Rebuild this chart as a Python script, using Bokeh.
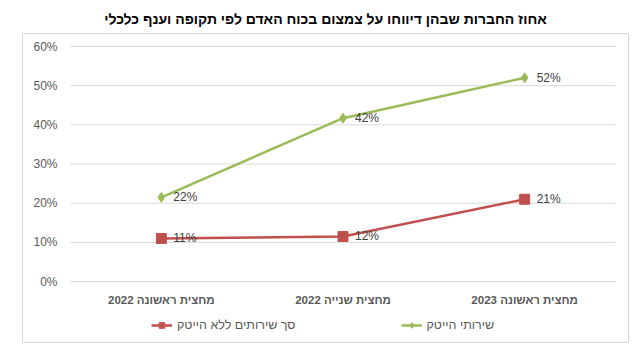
from bokeh.plotting import figure
from bokeh.models import Range1d, Legend, LegendItem
from bokeh.core.properties import value
from bokeh.embed import file_html
from bokeh.resources import INLINE

chart_title = "אחוז החברות שבהן דיווחו על צמצום בכוח האדם לפי תקופה וענף כלכלי"
periods = ["מחצית ראשונה 2022", "מחצית שנייה 2022", "מחצית ראשונה 2023"]
series_names = ["שירותי הייטק", "סך שירותים ללא הייטק"]
hitech = [0.215, 0.417, 0.52]
hitech_labels = ["22%", "42%", "52%"]
non_hitech = [0.11, 0.115, 0.21]
non_hitech_labels = ["11%", "12%", "21%"]
y_ticks = [0.0, 0.1, 0.2, 0.3, 0.4, 0.5, 0.6]
y_tick_labels = ["0%", "10%", "20%", "30%", "40%", "50%", "60%"]

GREEN = "#9BBB59"
RED = "#C0504D"
GRID = "#D9D9D9"
TXT = "#595959"
FONT = "Liberation Sans"

x_pos = list(range(len(periods)))
x_lo = x_pos[0] - 0.5
x_hi = x_pos[-1] + 0.5

p = figure(
    width=632, height=352,
    x_range=Range1d(-0.7642, 2.5716), y_range=Range1d(-0.1557, 0.6332),
    output_backend="svg", toolbar_location=None,
    x_axis_location=None, y_axis_location=None,
    min_border_left=22, min_border_right=4, min_border_bottom=10, min_border_top=33,
    title=chart_title,
)
p.grid.visible = False
p.outline_line_color = GRID
p.outline_line_width = 1
p.background_fill_color = "white"
p.border_fill_color = "white"
p.title.align = "center"
p.title.text_font = FONT
p.title.text_font_size = "14px"
p.title.text_font_style = "bold"
p.title.text_color = "#000000"
p.title.standoff = 13

# gridlines
p.segment(x0=[x_lo] * len(y_ticks), x1=[x_hi] * len(y_ticks), y0=y_ticks, y1=y_ticks,
          line_color=GRID, line_width=1)

# y tick labels
p.text(x=[x_lo] * len(y_ticks), y=y_ticks, text=y_tick_labels, x_offset=-13,
       text_align="right", text_baseline="middle", text_font=value(FONT),
       text_font_size="12px", text_color=TXT)

# category labels
p.text(x=x_pos, y=[0.0] * len(x_pos), text=periods, y_offset=18,
       text_align="center", text_baseline="middle", text_font=value(FONT),
       text_font_size="11.5px", text_font_style="bold", text_color=TXT)

# series
r_line = p.line(x_pos, non_hitech, line_color=RED, line_width=2.5)
r_mark = p.scatter(x_pos, non_hitech, marker="square", size=10, fill_color=RED, line_color=RED)
g_line = p.line(x_pos, hitech, line_color=GREEN, line_width=2.5)
g_mark = p.scatter(x_pos, hitech, marker="diamond", size=10, fill_color=GREEN, line_color=GREEN)

# data labels
p.text(x=x_pos, y=non_hitech, text=non_hitech_labels, x_offset=12,
       text_align="left", text_baseline="middle", text_font=value(FONT),
       text_font_size="12px", text_color="#404040")
p.text(x=x_pos, y=hitech, text=hitech_labels, x_offset=12,
       text_align="left", text_baseline="middle", text_font=value(FONT),
       text_font_size="12px", text_color="#404040")

legend = Legend(
    items=[LegendItem(label=series_names[1], renderers=[r_line, r_mark]),
           LegendItem(label=series_names[0], renderers=[g_line, g_mark])],
    orientation="horizontal", location=(129, 10),
    padding=0, margin=0, spacing=105, glyph_width=21, glyph_height=14,
    label_standoff=5, label_height=14,
    label_text_font=FONT, label_text_font_size="12.5px", label_text_color=TXT,
    border_line_color=None, background_fill_alpha=0,
)
p.add_layout(legend)

open("out.html", "w").write(file_html(p, INLINE))
